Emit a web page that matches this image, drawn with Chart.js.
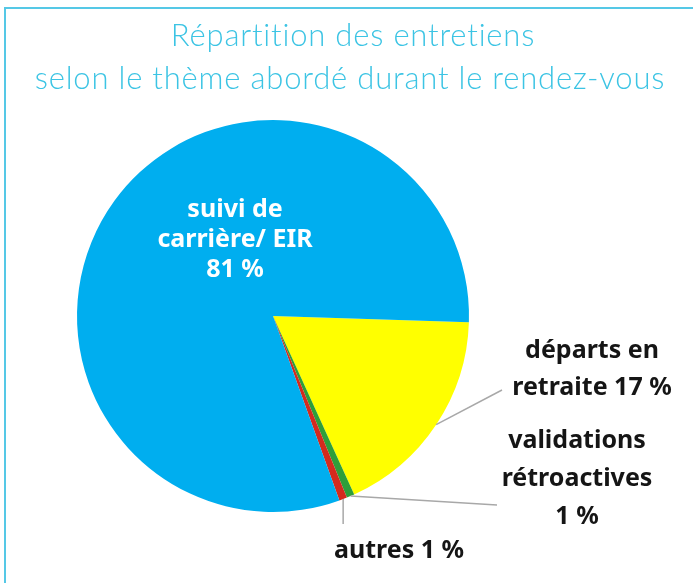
<!DOCTYPE html>
<html lang="fr">
<head>
<meta charset="utf-8">
<script src="https://cdn.jsdelivr.net/npm/chart.js@4/dist/chart.umd.min.js"></script>
<style>
  html, body { margin: 0; padding: 0; background: #fff; }
  #wrap { position: relative; width: 693px; height: 583px; }
  #frame {
    position: absolute; left: 4px; top: 7px; right: 0; bottom: 0;
    border-left: 2px solid #55c8e6; border-top: 2px solid #55c8e6;
  }
  canvas { position: absolute; left: 0; top: 0; }
</style>
</head>
<body>
<div id="wrap">
  <div id="frame"></div>
  <canvas id="pie" width="693" height="583"></canvas>
</div>
<script>
// data (order = clockwise from 3 o'clock)
const themes = ["départs en retraite", "validations rétroactives", "autres", "suivi de carrière/ EIR"];
const shares = [17.7, 0.65, 0.65, 81];
const pctLabels = ["17 %", "1 %", "1 %", "81 %"];
const colors = ["#ffff00", "#2e9e3a", "#d42a1e", "#00aeef"];
const titleLines = ["Répartition des entretiens", "selon le thème abordé durant le rendez-vous"];

const labelFont = "bold 25px 'Noto Sans', sans-serif";

// point on the outer edge, in the middle of slice i
function edgePoint(chart, i) {
  const arc = chart.getDatasetMeta(0).data[i];
  const a = (arc.startAngle + arc.endAngle) / 2;
  return { x: arc.x + Math.cos(a) * arc.outerRadius, y: arc.y + Math.sin(a) * arc.outerRadius };
}

function line(ctx, p, x2, y2) {
  ctx.beginPath();
  ctx.moveTo(p.x, p.y);
  ctx.lineTo(x2, y2);
  ctx.stroke();
}

function textLines(ctx, lines, x, y, step) {
  lines.forEach((t, k) => ctx.fillText(t, x, y + k * step));
}

const decorations = {
  id: "decorations",
  afterDraw(chart) {
    const ctx = chart.ctx;
    ctx.save();

    // title
    ctx.fillStyle = "#3cc4e4";
    ctx.font = "300 31px Lato, sans-serif";
    ctx.letterSpacing = "0.8px";
    ctx.textAlign = "center";
    ctx.textBaseline = "alphabetic";
    ctx.fillText(titleLines[0], 353, 46);
    ctx.fillText(titleLines[1], 350, 89);
    ctx.letterSpacing = "0px";

    // leader lines
    ctx.strokeStyle = "#a8a8a8";
    ctx.lineWidth = 1.5;
    line(ctx, edgePoint(chart, 0), 502, 390);
    line(ctx, edgePoint(chart, 1), 497, 505);
    const r = edgePoint(chart, 2);
    line(ctx, r, r.x, 524);

    // labels
    ctx.font = labelFont;
    ctx.fillStyle = "#fff";
    textLines(ctx, ["suivi de", "carrière/ EIR", pctLabels[3]], 235, 217, 30);
    ctx.fillStyle = "#151515";
    textLines(ctx, ["départs en", "retraite " + pctLabels[0]], 592, 358, 37);
    textLines(ctx, ["validations", "rétroactives", pctLabels[1]], 577, 448, 38);
    ctx.fillText("autres " + pctLabels[2], 399, 558);

    ctx.restore();
  }
};

new Chart(document.getElementById("pie"), {
  type: "pie",
  data: {
    labels: themes,
    datasets: [{
      data: shares,
      backgroundColor: colors,
      borderWidth: 0
    }]
  },
  options: {
    responsive: false,
    animation: false,
    rotation: 91.8,
    layout: { padding: { left: 77, right: 224, top: 118, bottom: 69 } },
    plugins: {
      legend: { display: false },
      tooltip: { enabled: false },
      title: { display: false }
    }
  },
  plugins: [decorations]
});
</script>
</body>
</html>
